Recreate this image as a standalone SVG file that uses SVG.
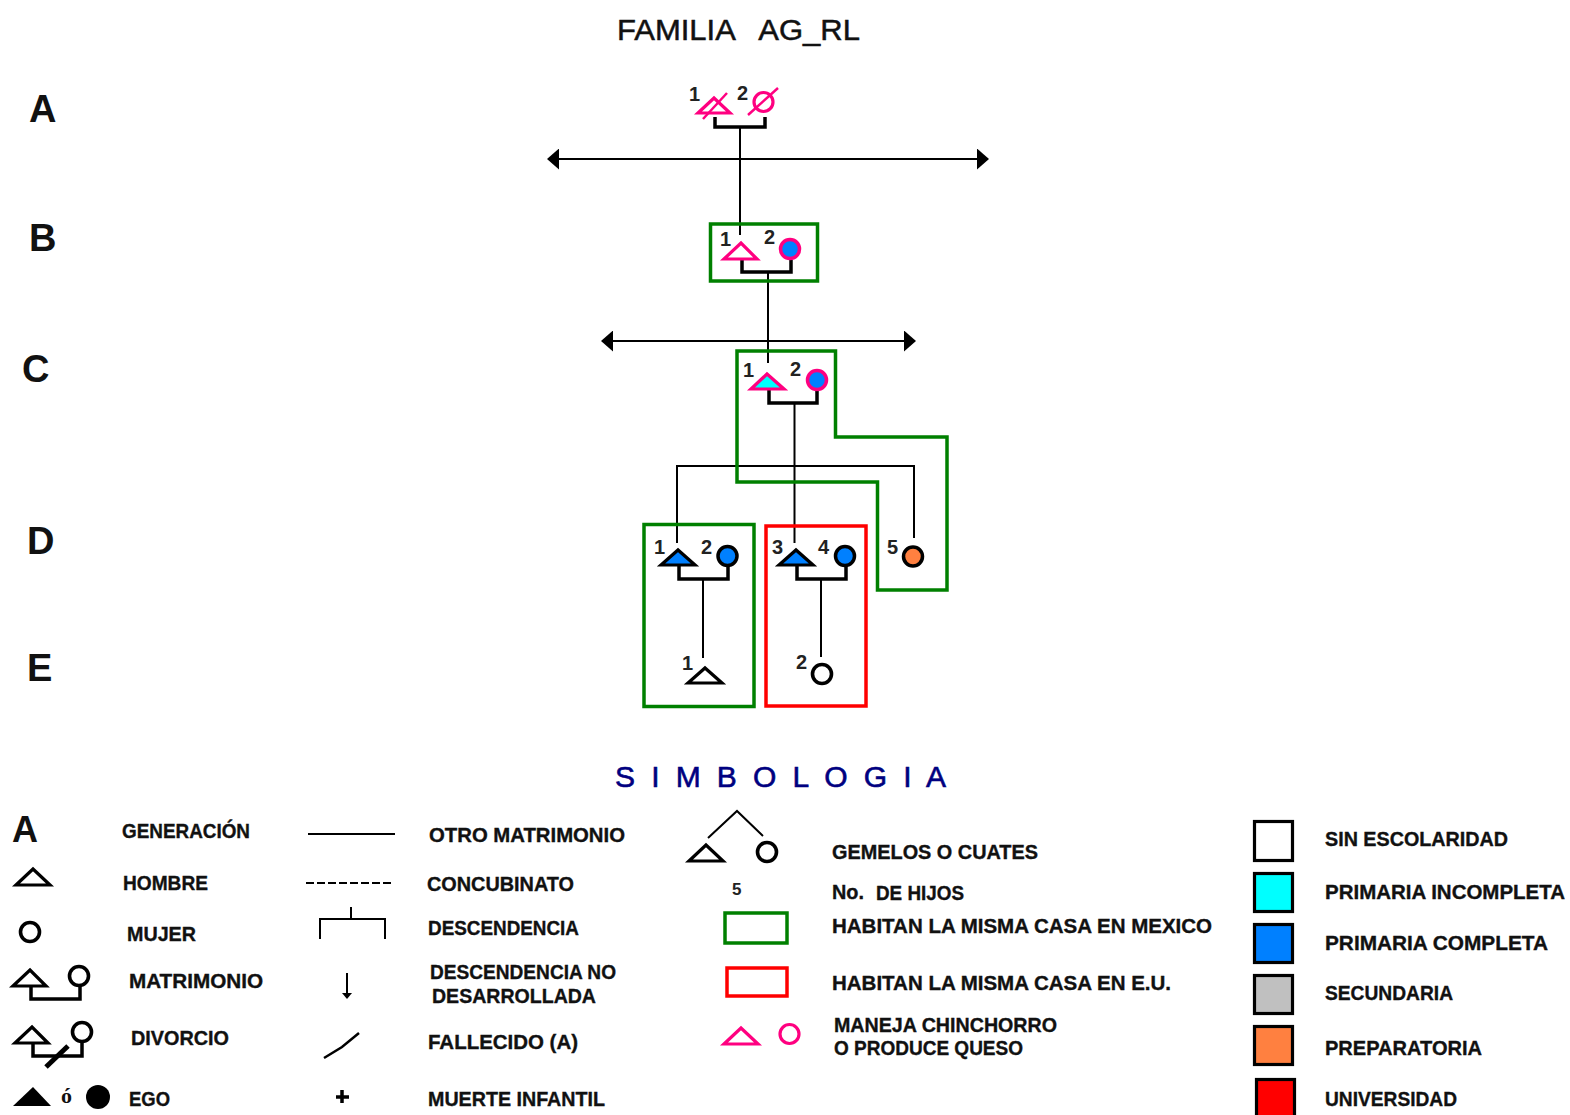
<svg xmlns="http://www.w3.org/2000/svg" width="1570" height="1115" viewBox="0 0 1570 1115">
<style>
text{font-family:"Liberation Sans",Arial,sans-serif;fill:#111}
.t{font-size:30px;stroke:#111;stroke-width:.5}
.g{font-size:38px;font-weight:bold}
.n{font-size:20px;font-weight:bold;fill:#222}
.l{font-size:20px;font-weight:bold;stroke:#111;stroke-width:.35}
.s{font-size:30px;fill:#000080;stroke:#000080;stroke-width:.6}
.pt{fill:#fff;stroke:#ff0080;stroke-width:3.2}
.bt{fill:#fff;stroke:#000;stroke-width:3.2}
.bc{fill:#fff;stroke:#000;stroke-width:3.6}
.line{fill:none;stroke:#000;stroke-width:2}
.br{fill:none;stroke:#000;stroke-width:3.5}
.gr{fill:none;stroke:#008000;stroke-width:3.5}
.rd{fill:none;stroke:#ff0000;stroke-width:3.5}
.sq{stroke:#000;stroke-width:3.2}
</style>
<defs>
<marker id="ah" viewBox="0 0 12 21" refX="1" refY="10.500" markerWidth="12" markerHeight="21" markerUnits="userSpaceOnUse" orient="auto-start-reverse"><path d="M0 0L12 10.500L0 21Z" fill="#000"/></marker>
</defs>
<rect width="1570" height="1115" fill="#fff"/>
<text class="t" x="617" y="40" textLength="243" lengthAdjust="spacingAndGlyphs" xml:space="preserve">FAMILIA   AG_RL</text>
<g id="gens">
<text class="g" x="29" y="122">A</text>
<text class="g" x="29" y="251">B</text>
<text class="g" x="22" y="382">C</text>
<text class="g" x="27" y="554">D</text>
<text class="g" x="27" y="681">E</text>
</g>
<g id="connectors">
<path class="line" d="M558 159H978" marker-start="url(#ah)" marker-end="url(#ah)"/>
<path class="line" d="M612 341H905" marker-start="url(#ah)" marker-end="url(#ah)"/>
<path class="br" d="M715 117V127H765V117"/>
<path class="line" d="M740 127V235"/>
<path class="br" d="M742 260V272H791V260"/>
<path class="line" d="M768 272V363"/>
<path class="br" d="M769 390V403H817V390"/>
<path class="line" d="M794.500 403V543"/>
<path class="line" d="M677 543V466H914V538"/>
<path class="br" d="M679 566V579H728V566"/>
<path class="line" d="M703 579V658"/>
<path class="br" d="M797 566V579H846V566"/>
<path class="line" d="M821 579V657"/>
</g>
<g id="households">
<rect class="gr" x="710.500" y="224" width="107" height="57"/>
<path class="gr" d="M737 351H835.500V437H947V590H877.500V482H737Z"/>
<rect class="gr" x="644" y="524.500" width="110" height="182"/>
<rect class="rd" x="766" y="526" width="100" height="180"/>
</g>
<g id="A1"><path class="pt" d="M698 113L714 98L730 113Z"/><path d="M703 119L727 93" stroke="#ff0080" stroke-width="2.500"/><text class="n" x="689" y="101">1</text></g>
<g id="A2"><circle class="pt" cx="763.500" cy="102" r="9.500"/><path d="M748 115L778 88" stroke="#ff0080" stroke-width="2.500"/><text class="n" x="737" y="100">2</text></g>
<g id="B1"><path class="pt" d="M724 259L741 243L757 259Z"/><text class="n" x="720" y="246">1</text></g>
<g id="B2"><circle cx="790" cy="249" r="9.500" fill="#0080ff" stroke="#ff0080" stroke-width="3.500"/><text class="n" x="764" y="244">2</text></g>
<g id="C1"><path d="M751 389L767 374L784 389Z" fill="#00ffff" stroke="#ff0080" stroke-width="3.200"/><text class="n" x="743" y="377">1</text></g>
<g id="C2"><circle cx="817" cy="380" r="9.500" fill="#0080ff" stroke="#ff0080" stroke-width="3.500"/><text class="n" x="790" y="376">2</text></g>
<g id="D1"><path d="M661 565L678 550L695 565Z" fill="#0080ff" stroke="#000" stroke-width="3.200"/><text class="n" x="654" y="554">1</text></g>
<g id="D2"><circle cx="727.500" cy="556" r="9.500" fill="#0080ff" stroke="#000" stroke-width="3.500"/><text class="n" x="701" y="554">2</text></g>
<g id="D3"><path d="M779 565L796 550L813 565Z" fill="#0080ff" stroke="#000" stroke-width="3.200"/><text class="n" x="772" y="554">3</text></g>
<g id="D4"><circle cx="845" cy="556" r="9.500" fill="#0080ff" stroke="#000" stroke-width="3.500"/><text class="n" x="818" y="554">4</text></g>
<g id="D5"><circle cx="913" cy="556.500" r="9.500" fill="#ff8040" stroke="#000" stroke-width="3.500"/><text class="n" x="887" y="554">5</text></g>
<g id="E1"><path class="bt" d="M688 683L705 668L722 683Z"/><text class="n" x="682" y="670">1</text></g>
<g id="E2"><circle class="bc" cx="822" cy="674" r="9.500"/><text class="n" x="796" y="669">2</text></g>
<text class="s" x="615" y="787" textLength="331" xml:space="preserve">S I M B O L O G I A</text>
<g id="legend">
<text class="g" x="12" y="842" style="font-size:36px">A</text>
<text class="l" x="122" y="838" textLength="128" lengthAdjust="spacingAndGlyphs">GENERACIÓN</text>
<path class="bt" d="M16 885L33 869L50 885Z"/>
<text class="l" x="123" y="890" textLength="85" lengthAdjust="spacingAndGlyphs">HOMBRE</text>
<circle class="bc" cx="30" cy="932" r="9.500"/>
<text class="l" x="127" y="941" textLength="69" lengthAdjust="spacingAndGlyphs">MUJER</text>
<path class="bt" d="M13 986L30 970L46 986Z"/><circle class="bc" cx="79" cy="976" r="9.500"/>
<path class="br" d="M31 986V999H80V986"/>
<text class="l" x="129" y="988" textLength="134" lengthAdjust="spacingAndGlyphs">MATRIMONIO</text>
<path class="bt" d="M15 1043L32 1027L48 1043Z"/><circle class="bc" cx="82" cy="1032" r="9.500"/>
<path class="br" d="M33 1043V1056H82V1043"/><path d="M46 1067L68 1046" stroke="#000" stroke-width="5"/>
<text class="l" x="131" y="1045" textLength="98" lengthAdjust="spacingAndGlyphs">DIVORCIO</text>
<path d="M13 1106L33 1087L51 1106Z" fill="#000"/>
<text x="61" y="1103" style="font-family:'Liberation Serif',serif;font-size:22px;font-weight:bold">ó</text>
<circle cx="98" cy="1097" r="12" fill="#000"/>
<text class="l" x="129" y="1106" textLength="41" lengthAdjust="spacingAndGlyphs">EGO</text>
<path class="line" d="M308 834H395"/>
<text class="l" x="429" y="842" textLength="196" lengthAdjust="spacingAndGlyphs">OTRO MATRIMONIO</text>
<path class="line" d="M306 883H394" stroke-dasharray="8 3"/>
<text class="l" x="427" y="891" textLength="147" lengthAdjust="spacingAndGlyphs">CONCUBINATO</text>
<path class="line" d="M320 939V919H385V939M351 907V919"/>
<text class="l" x="428" y="935" textLength="151" lengthAdjust="spacingAndGlyphs">DESCENDENCIA</text>
<path d="M347 973V994" stroke="#000" stroke-width="2"/><path d="M342 993H352L347 999Z" fill="#000"/>
<text class="l" x="430" y="979" textLength="186" lengthAdjust="spacingAndGlyphs">DESCENDENCIA NO</text>
<text class="l" x="432" y="1003" textLength="164" lengthAdjust="spacingAndGlyphs">DESARROLLADA</text>
<path d="M324 1058L342 1047L359 1033" fill="none" stroke="#000" stroke-width="2.500"/>
<text class="l" x="428" y="1049" textLength="150" lengthAdjust="spacingAndGlyphs">FALLECIDO (A)</text>
<path d="M342 1090V1103M336 1097H349" stroke="#000" stroke-width="3.500"/>
<text class="l" x="428" y="1106" textLength="177" lengthAdjust="spacingAndGlyphs">MUERTE INFANTIL</text>
<path class="line" d="M708 838L737 811L763 836"/>
<path class="bt" d="M689 861L706 845L723 861Z"/><circle class="bc" cx="767" cy="852" r="9.500"/>
<text class="l" x="832" y="859" textLength="206" lengthAdjust="spacingAndGlyphs">GEMELOS O CUATES</text>
<text class="n" x="732" y="895" style="font-size:17px">5</text>
<text class="l" x="832" y="899" textLength="32" lengthAdjust="spacingAndGlyphs">No.</text>
<text class="l" x="876" y="900" textLength="88" lengthAdjust="spacingAndGlyphs">DE HIJOS</text>
<rect class="gr" x="725" y="913" width="62" height="30"/>
<text class="l" x="832" y="933" textLength="380" lengthAdjust="spacingAndGlyphs">HABITAN LA MISMA CASA EN MEXICO</text>
<rect class="rd" x="727" y="968" width="60" height="28"/>
<text class="l" x="832" y="990" textLength="339" lengthAdjust="spacingAndGlyphs">HABITAN LA MISMA CASA EN E.U.</text>
<path class="pt" d="M724 1044L741 1028L758 1044Z"/><circle class="pt" cx="789.500" cy="1034" r="9.500"/>
<text class="l" x="834" y="1032" textLength="223" lengthAdjust="spacingAndGlyphs">MANEJA CHINCHORRO</text>
<text class="l" x="834" y="1055" textLength="189" lengthAdjust="spacingAndGlyphs">O PRODUCE QUESO</text>
<rect class="sq" x="1254.500" y="821.500" width="38" height="39" fill="#fff"/>
<text class="l" x="1325" y="846" textLength="183" lengthAdjust="spacingAndGlyphs">SIN ESCOLARIDAD</text>
<rect class="sq" x="1254.500" y="873.500" width="38" height="38" fill="#00ffff"/>
<text class="l" x="1325" y="899" textLength="240" lengthAdjust="spacingAndGlyphs">PRIMARIA INCOMPLETA</text>
<rect class="sq" x="1254.500" y="924.500" width="38" height="38" fill="#0080ff"/>
<text class="l" x="1325" y="950" textLength="223" lengthAdjust="spacingAndGlyphs">PRIMARIA  COMPLETA</text>
<rect class="sq" x="1254.500" y="975.500" width="38" height="38" fill="#c0c0c0"/>
<text class="l" x="1325" y="1000" textLength="128" lengthAdjust="spacingAndGlyphs">SECUNDARIA</text>
<rect class="sq" x="1254.500" y="1026.500" width="38" height="38" fill="#ff8040"/>
<text class="l" x="1325" y="1055" textLength="157" lengthAdjust="spacingAndGlyphs">PREPARATORIA</text>
<rect class="sq" x="1256.500" y="1079.500" width="38" height="38" fill="#ff0000"/>
<text class="l" x="1325" y="1106" textLength="132" lengthAdjust="spacingAndGlyphs">UNIVERSIDAD</text>
</g>
</svg>
